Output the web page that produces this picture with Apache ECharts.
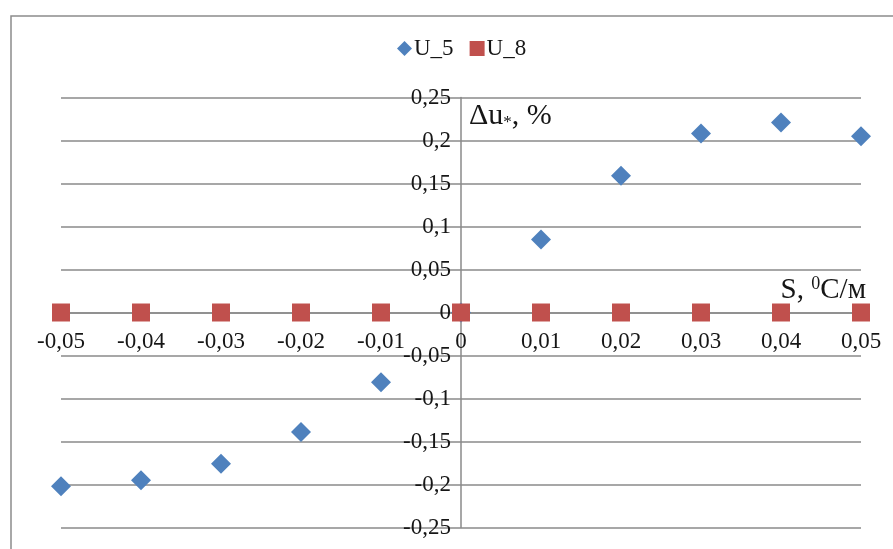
<!DOCTYPE html>
<html>
<head>
<meta charset="utf-8">
<script src="https://cdn.jsdelivr.net/npm/echarts@6/dist/echarts.min.js"></script>
<style>html,body{margin:0;padding:0;background:#fff}#c{width:893px;height:549px}</style>
</head>
<body>
<div id="c"></div>
<script>
// Data
var xValues = [-0.05, -0.04, -0.03, -0.02, -0.01, 0, 0.01, 0.02, 0.03, 0.04, 0.05];
var u5Values = [-0.202, -0.195, -0.176, -0.139, -0.081, 0, 0.085, 0.159, 0.208, 0.221, 0.205];
var u8Values = [0, 0, 0, 0, 0, 0, 0, 0, 0, 0, 0];
var seriesNames = ['U_5', 'U_8'];

function fmt(v) { return String(+(+v).toFixed(2)).replace('.', ','); }
function pairs(xs, ys) { return xs.map(function (x, i) { return [x, ys[i]]; }); }

var font = '"Liberation Serif", "Times New Roman", serif';
var gridColor = '#8a8a8a';
var textColor = '#161616';

var chart = echarts.init(document.getElementById('c'), null, { renderer: 'canvas' });
chart.setOption({
  animation: false,
  backgroundColor: '#fff',
  graphic: [{
    type: 'rect', left: 8.5, top: 13.5, shape: { width: 900, height: 600 },
    style: { fill: 'none', stroke: '#8c8c8c', lineWidth: 1.5 }, silent: true
  }],
  legend: {
    top: 32, left: 392,
    itemGap: 16, itemWidth: 15, itemHeight: 15,
    textStyle: { fontFamily: font, fontSize: 23, color: textColor, padding: [0, 0, 0, -3] },
    data: [{ name: seriesNames[0], icon: 'diamond' }, { name: seriesNames[1], icon: 'rect' }]
  },
  grid: { left: 61, right: 32, top: 97.5, bottom: 21.5, containLabel: false, outerBoundsMode: 'none' },
  xAxis: {
    type: 'value', min: -0.05, max: 0.05, interval: 0.01,
    position: 'bottom', offset: -215,
    axisLine: { onZero: false, lineStyle: { color: gridColor, width: 1.5 } },
    axisTick: { show: false },
    splitLine: { show: false },
    axisLabel: { formatter: fmt, fontFamily: font, fontSize: 23, color: textColor, margin: 18 },
    name: '{a|S, }{s|0}{a|C/м}', nameLocation: 'end', nameGap: 5,
    nameTextStyle: {
      align: 'right', verticalAlign: 'bottom', padding: [0, 0, 8, 0],
      rich: {
        a: { fontFamily: font, fontSize: 29, color: textColor },
        s: { fontFamily: font, fontSize: 18, color: textColor, verticalAlign: 'top', padding: [0, 0, 10, 0] }
      }
    }
  },
  yAxis: {
    type: 'value', min: -0.25, max: 0.25, interval: 0.05,
    position: 'left', offset: -400,
    axisLine: { onZero: false, lineStyle: { color: gridColor, width: 1.5 } },
    axisTick: { show: false },
    splitLine: { show: true, lineStyle: { color: gridColor, width: 1.5 } },
    axisLabel: { formatter: fmt, fontFamily: font, fontSize: 23, color: textColor, margin: 10 },
    name: '{a|Δu}{s|*}{a|, %}', nameLocation: 'end', nameGap: -4,
    nameTextStyle: {
      align: 'left', verticalAlign: 'top', padding: [0, 0, 0, 8],
      rich: {
        a: { fontFamily: font, fontSize: 30, color: textColor },
        s: { fontFamily: font, fontSize: 17, color: textColor, verticalAlign: 'bottom', padding: [10, 0, 0, 0] }
      }
    }
  },
  series: [{
    name: seriesNames[0], type: 'scatter', symbol: 'diamond', symbolSize: 20,
    itemStyle: { color: '#4F81BD', opacity: 1 }, data: pairs(xValues, u5Values), z: 2
  }, {
    name: seriesNames[1], type: 'scatter', symbol: 'rect', symbolSize: 18,
    itemStyle: { color: '#C0504D', opacity: 1 }, data: pairs(xValues, u8Values), z: 3
  }]
});
</script>
</body>
</html>
